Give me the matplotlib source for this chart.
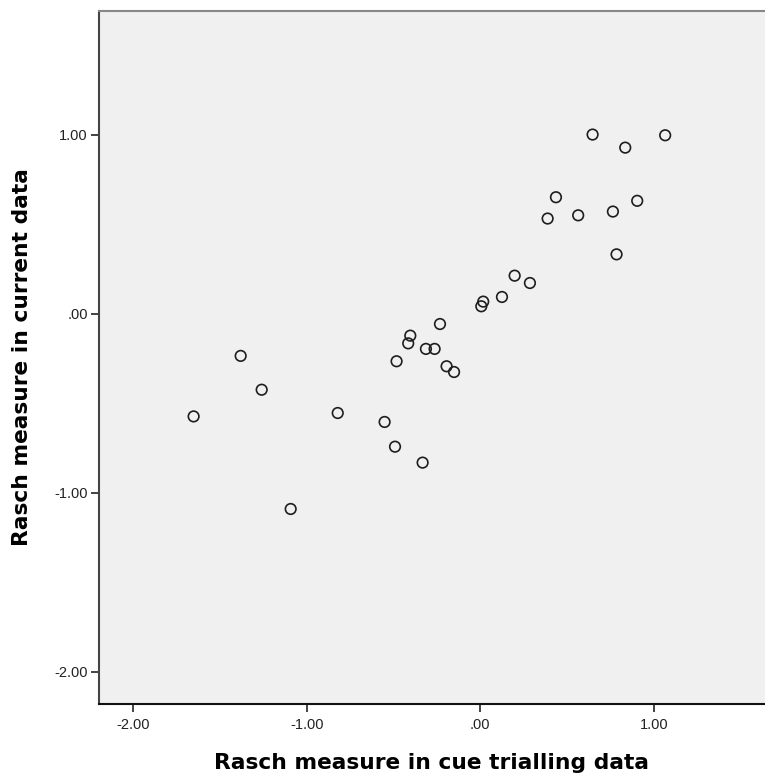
import matplotlib
matplotlib.use('Agg')
import matplotlib.pyplot as plt
from matplotlib.ticker import FuncFormatter

# Rasch measures
cue_trialling = [0.647, 1.065, 0.835, 0.436, 0.904, 0.388, 0.564, 0.764, 0.785,
                 0.198, 0.286, 0.125, 0.017, 0.006,
                 -0.232, -0.403, -0.415, -0.313, -0.263, -0.482, -0.194, -0.151,
                 -0.821, -0.551, -0.491, -0.332,
                 -1.380, -1.259, -1.651, -1.092]
current = [1.00, 0.996, 0.927, 0.650, 0.630, 0.531, 0.549, 0.570, 0.331,
           0.212, 0.171, 0.093, 0.067, 0.041,
           -0.058, -0.123, -0.166, -0.197, -0.197, -0.266, -0.294, -0.326,
           -0.555, -0.605, -0.743, -0.832,
           -0.236, -0.425, -0.574, -1.091]
ticks = [-2.0, -1.0, 0.0, 1.0]


def spss_fmt(v, pos):
  s = '%.2f' % v
  if s.startswith('0.'):
    s = s[1:]
  if s == '-0.00' or s == '0.00':
    s = '.00'
  return s


plt.rcParams['font.family'] = ['Liberation Sans', 'DejaVu Sans']

fig = plt.figure(figsize=(7.65, 7.76), dpi=100)
ax = fig.add_axes([99 / 765, 72 / 776, 666 / 765, 693 / 776])
ax.set_facecolor('#f0f0f0')

ax.scatter(cue_trialling, current, s=58, facecolors='none', edgecolors='#1e1e1e',
           linewidths=1.2, zorder=3)

ax.set_xlim(-2.196, 1.64)
ax.set_ylim(-2.18, 1.69)
ax.set_xticks(ticks)
ax.set_yticks(ticks)
ax.xaxis.set_major_formatter(FuncFormatter(spss_fmt))
ax.yaxis.set_major_formatter(FuncFormatter(spss_fmt))
ax.tick_params(axis='both', direction='out', length=6, width=1.2, color='#222222',
               labelsize=10.5, labelcolor='#222222')
ax.tick_params(axis='x', pad=4)
ax.tick_params(axis='y', pad=2)

ax.spines['right'].set_visible(False)
ax.spines['top'].set_color('#888888')
ax.spines['top'].set_linewidth(1.5)
ax.spines['left'].set_color('#444444')
ax.spines['left'].set_linewidth(1.5)
ax.spines['bottom'].set_color('#111111')
ax.spines['bottom'].set_linewidth(1.5)

label_font = dict(family='DejaVu Sans', fontsize=15.7, fontweight='bold')
ax.set_xlabel('Rasch measure in cue trialling data', labelpad=15, **label_font)
ax.set_ylabel('Rasch measure in current data', labelpad=16, **label_font)

fig.savefig('out.png', dpi=100, facecolor='white')
